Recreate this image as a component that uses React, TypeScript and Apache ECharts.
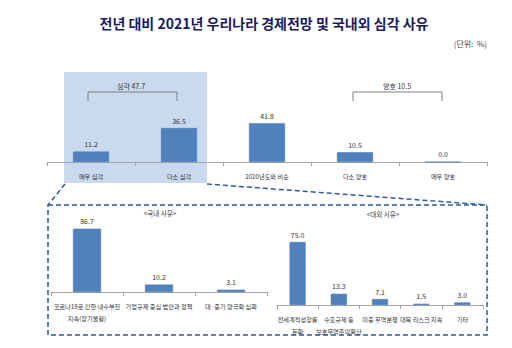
import React, { useEffect, useRef } from "react";
import * as echarts from "echarts";

const titleText = "전년 대비 2021년 우리나라 경제전망 및 국내외 심각 사유";
const unitText = "(단위:  %)";

const mainCategories = ["매우 심각", "다소 심각", "2020년도와 비슷", "다소 양호", "매우 양호"];
const mainValues = [11.2, 36.5, 41.8, 10.5, 0.0];
const seriousSumText = "심각 47.7";
const goodSumText = "양호 10.5";

const domesticTitle = "<국내 사유>";
const domesticCategories = [
  "코로나19로 인한 내수부진\n지속(장기불황)",
  "기업규제 중심 법안과 정책",
  "대·중기 양극화 심화",
];
const domesticValues = [86.7, 10.2, 3.1];

const foreignTitle = "<대외 사유>";
const foreignCategories = [
  "전세계적성장률\n둔화",
  "수출규제 등\n보호무역주의확산",
  "미중 무역분쟁",
  "대북 리스크 지속",
  "기타",
];
const foreignValues = [75.0, 13.3, 7.1, 1.5, 3.0];

const FONT = "'Noto Sans CJK KR', 'Noto Sans', sans-serif";
const BAR = "#4f81bd";
const TXT = "#333333";

export default function App() {
  const ref = useRef<HTMLDivElement>(null);
  useEffect(() => {
    document.body.style.margin = "0";
    if (!ref.current) return;
    const chart = echarts.init(ref.current, null, { renderer: "svg" });

    const xAxisBase = (gridIndex: number, data: string[]) => ({
      type: "category",
      gridIndex,
      data,
      axisLine: { lineStyle: { color: "#a6a6a6", width: 1 } },
      axisTick: { show: true, length: 4, lineStyle: { color: "#a6a6a6" } },
      axisLabel: {
        interval: 0,
        fontSize: 6.2,
        color: TXT,
        fontFamily: FONT,
        margin: 8,
        lineHeight: 12,
      },
    });
    const yAxisBase = (gridIndex: number) => ({
      type: "value",
      gridIndex,
      min: 0,
      max: 100,
      show: false,
      splitLine: { show: false },
    });
    const barSeries = (idx: number, data: number[], width: number) => ({
      type: "bar",
      xAxisIndex: idx,
      yAxisIndex: idx,
      data,
      barWidth: width,
      z: 3,
      itemStyle: { color: BAR, borderColor: "#4372b0", borderWidth: 0.5 },
      label: {
        show: true,
        position: "top",
        distance: 4,
        fontSize: 7,
        color: TXT,
        fontFamily: FONT,
        formatter: (p: any) => Number(p.value).toFixed(1),
      },
    });

    const dash = { stroke: "#2f5b96", lineWidth: 1.5, lineDash: [5, 3] };
    const bracketStyle = { stroke: "#7f7f7f", lineWidth: 1, fill: null };

    chart.setOption({
      animation: false,
      textStyle: { fontFamily: FONT },
      grid: [
        { left: 47, top: 69, width: 440, height: 93 },
        { left: 51, top: 219, width: 216, height: 73 },
        { left: 277, top: 221, width: 206, height: 84 },
      ],
      xAxis: [
        xAxisBase(0, mainCategories),
        xAxisBase(1, domesticCategories),
        xAxisBase(2, foreignCategories),
      ],
      yAxis: [yAxisBase(0), yAxisBase(1), yAxisBase(2)],
      series: [
        barSeries(0, mainValues, 36),
        barSeries(1, domesticValues, 28),
        barSeries(2, foreignValues, 16),
      ],
      graphic: [
        {
          type: "rect",
          z: -10,
          shape: { x: 64, y: 72, width: 143, height: 111 },
          style: { fill: "#c9daee" },
        },
        {
          type: "text",
          x: 264,
          y: 23,
          style: {
            text: titleText,
            fontSize: 14,
            fontWeight: "bold",
            fill: "#1b1b5e",
            fontFamily: FONT,
            align: "center",
            verticalAlign: "middle",
          },
        },
        {
          type: "text",
          x: 487,
          y: 43,
          style: {
            text: unitText,
            fontSize: 8,
            fill: "#444",
            fontFamily: FONT,
            align: "right",
            verticalAlign: "middle",
          },
        },
        {
          type: "polyline",
          shape: { points: [[88, 101], [88, 92], [177, 92], [177, 101]] },
          style: bracketStyle,
        },
        {
          type: "text",
          x: 131,
          y: 86,
          style: {
            text: seriousSumText,
            fontSize: 7,
            fill: TXT,
            fontFamily: FONT,
            align: "center",
            verticalAlign: "middle",
          },
        },
        {
          type: "polyline",
          shape: { points: [[353, 101], [353, 92], [442, 92], [442, 101]] },
          style: bracketStyle,
        },
        {
          type: "text",
          x: 397,
          y: 86,
          style: {
            text: goodSumText,
            fontSize: 7,
            fill: TXT,
            fontFamily: FONT,
            align: "center",
            verticalAlign: "middle",
          },
        },
        {
          type: "line",
          shape: { x1: 65, y1: 184, x2: 48, y2: 205 },
          style: dash,
        },
        {
          type: "line",
          shape: { x1: 207, y1: 184, x2: 487, y2: 205 },
          style: dash,
        },
        {
          type: "rect",
          shape: { x: 48, y: 205, width: 439, height: 130 },
          style: { ...dash, fill: null },
        },
        {
          type: "text",
          x: 160,
          y: 213,
          style: {
            text: domesticTitle,
            fontSize: 6.5,
            fill: TXT,
            fontFamily: FONT,
            align: "center",
            verticalAlign: "middle",
          },
        },
        {
          type: "text",
          x: 383,
          y: 214,
          style: {
            text: foreignTitle,
            fontSize: 6.5,
            fill: TXT,
            fontFamily: FONT,
            align: "center",
            verticalAlign: "middle",
          },
        },
      ],
    });
    return () => chart.dispose();
  }, []);
  return <div ref={ref} style={{ width: 512, height: 348, background: "#fff" }} />;
}
